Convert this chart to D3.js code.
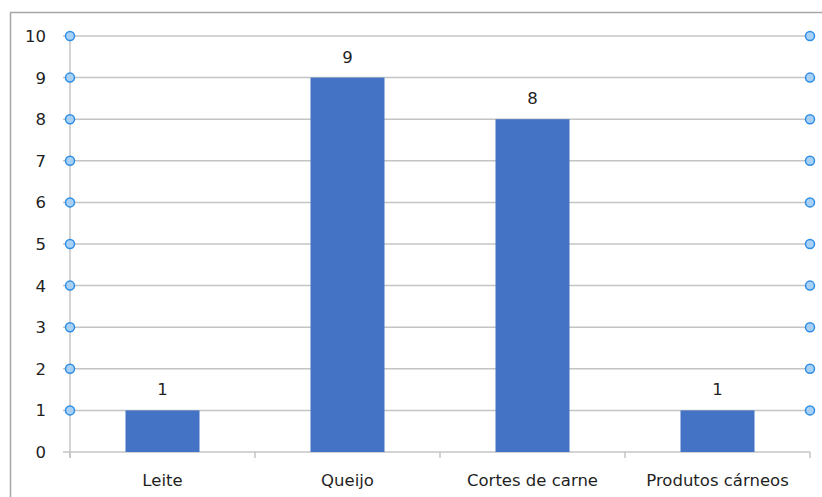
<!DOCTYPE html>
<html>
<head>
<meta charset="utf-8">
<script src="https://cdn.jsdelivr.net/npm/d3@7"></script>
<style>
  body { margin: 0; background: #fff; }
  svg text { font-family: "DejaVu Sans", sans-serif; fill: #1f1f1f; }
</style>
</head>
<body>
<svg width="822" height="497"></svg>
<script>
const categories = ["Leite", "Queijo", "Cortes de carne", "Produtos cárneos"];
const values = [1, 9, 8, 1];
const yTicks = [0, 1, 2, 3, 4, 5, 6, 7, 8, 9, 10];

const svg = d3.select("svg");
const plotLeft = 70, plotRight = 810, plotTop = 36, plotBottom = 452;
const fontSize = 16.5;

// outer chart border
svg.append("rect")
    .attr("x", 10.5).attr("y", 12.5)
    .attr("width", 820).attr("height", 500)
    .attr("fill", "none")
    .attr("stroke", "#a6a6a6")
    .attr("stroke-width", 1.5);

const x = d3.scaleBand().domain(categories).range([plotLeft, plotRight]).paddingInner(0.6).paddingOuter(0.3);
const y = d3.scaleLinear().domain([0, 10]).range([plotBottom, plotTop]);

// gridlines
svg.append("g")
    .selectAll("line")
    .data(yTicks)
    .enter()
    .append("line")
    .attr("x1", plotLeft - 7)
    .attr("x2", plotRight)
    .attr("y1", d => y(d))
    .attr("y2", d => y(d))
    .attr("stroke", "#c4c4c4")
    .attr("stroke-width", 1.5);

// vertical axis line
svg.append("line")
    .attr("x1", plotLeft).attr("x2", plotLeft)
    .attr("y1", plotTop).attr("y2", plotBottom + 6)
    .attr("stroke", "#c4c4c4")
    .attr("stroke-width", 1.5);

// category ticks
const bandEdges = d3.range(categories.length + 1).map(i => plotLeft + i * (plotRight - plotLeft) / categories.length);
svg.append("g")
    .selectAll("line")
    .data(bandEdges)
    .enter()
    .append("line")
    .attr("x1", d => d).attr("x2", d => d)
    .attr("y1", plotBottom).attr("y2", plotBottom + 6)
    .attr("stroke", "#c4c4c4")
    .attr("stroke-width", 1.5);

// y labels
svg.append("g")
    .selectAll("text")
    .data(yTicks)
    .enter()
    .append("text")
    .attr("x", 46)
    .attr("y", d => y(d) + 6)
    .attr("text-anchor", "end")
    .attr("font-size", fontSize)
    .text(d => d);

// bars
svg.append("g")
    .selectAll("rect")
    .data(values)
    .enter()
    .append("rect")
    .attr("x", (d, i) => x(categories[i]))
    .attr("y", d => y(d))
    .attr("width", x.bandwidth())
    .attr("height", d => y(0) - y(d))
    .attr("fill", "#4472c4");

// value labels
svg.append("g")
    .selectAll("text")
    .data(values)
    .enter()
    .append("text")
    .attr("x", (d, i) => x(categories[i]) + x.bandwidth() / 2)
    .attr("y", d => y(d) - 15)
    .attr("text-anchor", "middle")
    .attr("font-size", fontSize)
    .text(d => d);

// category labels
svg.append("g")
    .selectAll("text")
    .data(categories)
    .enter()
    .append("text")
    .attr("x", d => x(d) + x.bandwidth() / 2)
    .attr("y", 486)
    .attr("text-anchor", "middle")
    .attr("font-size", fontSize)
    .text(d => d);

// marker circles at both ends of the gridlines
const markerTicks = yTicks.filter(d => d > 0);
[plotLeft, plotRight].forEach(cx => {
    svg.append("g")
        .selectAll("circle")
        .data(markerTicks)
        .enter()
        .append("circle")
        .attr("cx", cx)
        .attr("cy", d => y(d))
        .attr("r", 4.5)
        .attr("fill", "#a9d1f5")
        .attr("stroke", "#2e8ee6")
        .attr("stroke-width", 1.5);
});
</script>
</body>
</html>
